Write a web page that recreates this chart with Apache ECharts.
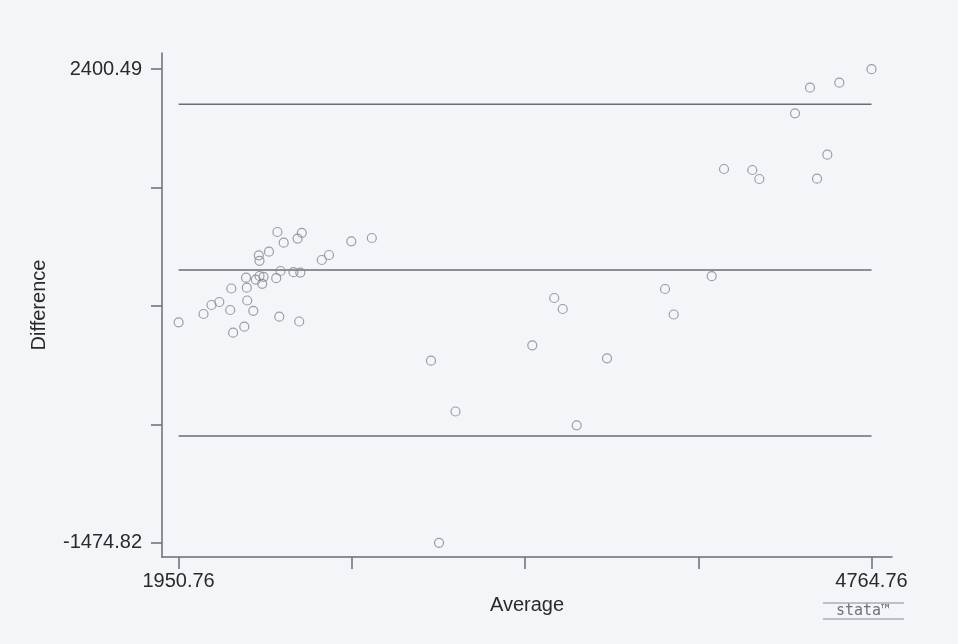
<!DOCTYPE html>
<html>
<head>
<meta charset="utf-8">
<script src="https://cdn.jsdelivr.net/npm/echarts@6/dist/echarts.min.js"></script>
<style>
  html, body { margin: 0; padding: 0; background: #f3f5f9; }
  #chart { width: 958px; height: 644px; }
</style>
</head>
<body>
<div id="chart"></div>
<script>
// Average of the two measurements (x) and their difference (y)
const averages = [
  1950.76, 2051.9, 2084.4, 2116.1, 2160.3, 2164.8, 2172.1, 2224.5, 2227.7, 2229.4,
  2217.6, 2254.1, 2264.3, 2279.3, 2295.6, 2290.3, 2276.5, 2279.3, 2317.9, 2352.0,
  2377.6, 2347.2, 2364.6, 2359.7, 2417.4, 2445.0, 2440.5, 2434.0, 2451.1, 2532.3,
  2561.6, 2652.1, 2735.4, 2975.8, 3075.3, 3008.3, 3387.2, 3476.2, 3510.7, 3567.5,
  3690.6, 3926.2, 3961.5, 4115.8, 4165.8, 4280.7, 4309.1, 4454.1, 4515.0, 4543.5,
  4585.3, 4634.0, 4764.76
];
const differences = [
  329.5, 397.4, 471.0, 495.6, 430.1, 606.0, 244.4, 694.4, 612.6, 507.8,
  293.5, 423.6, 678.0, 708.3, 701.8, 644.5, 877.7, 832.7, 907.2, 1068.4,
  980.8, 690.3, 749.2, 375.3, 739.4, 736.1, 336.0, 1014.4, 1061.8, 839.2,
  880.2, 992.3, 1019.3, 15.2, -400.4, -1474.82, 141.3, 528.3, 438.3, -513.4,
  34.9, 601.9, 393.3, 706.7, 1583.9, 1575.7, 1502.0, 2039.6, 2249.1, 1504.5,
  1700.9, 2290.0, 2400.49
];
// Mean difference and limits of agreement
const limitLines = [2114.3, 757.1, -600.1];
// Tick values
const xTicks = [1950.76, 2654.26, 3357.76, 4061.26, 4764.76];
const xLabels = [1950.76, 4764.76];
const yTicks = [-1474.82, -505.99, 462.84, 1431.66, 2400.49];
const yLabels = [-1474.82, 2400.49];

const points = averages.map((a, i) => [a, differences[i]]);
const xMin = xTicks[0], xMax = xTicks[xTicks.length - 1];

const chart = echarts.init(document.getElementById('chart'), null, { renderer: 'canvas' });

const lineSeries = limitLines.map(v => ({
  type: 'line',
  data: [[xMin, v], [xMax, v]],
  symbol: 'none',
  silent: true,
  lineStyle: { color: '#6a6c72', width: 1.5 },
  z: 1
}));

chart.setOption({
  backgroundColor: '#f3f5f9',
  animation: false,
  textStyle: { fontFamily: 'Liberation Sans, Arial, sans-serif' },
  grid: { left: 162, right: 66, top: 53, bottom: 87, containLabel: false },
  xAxis: {
    type: 'value',
    min: 1883.35,
    max: 4848.0,
    name: 'Average',
    nameLocation: 'middle',
    nameGap: 31,
    nameTextStyle: { fontSize: 20, color: '#2a2a2e', fontFamily: 'Liberation Sans' },
    axisLine: { show: true, onZero: false, lineStyle: { color: '#6a6c72', width: 1.5 } },
    axisTick: { show: true, length: 12, customValues: xTicks, lineStyle: { color: '#6a6c72', width: 1.5 } },
    axisLabel: {
      customValues: xLabels,
      margin: 14,
      fontSize: 20,
      color: '#2a2a2e',
      fontFamily: 'Liberation Sans',
      formatter: v => Number(v).toFixed(2)
    },
    splitLine: { show: false }
  },
  yAxis: {
    type: 'value',
    min: -1591.0,
    max: 2533.1,
    name: 'Difference',
    nameLocation: 'middle',
    nameGap: 113,
    nameRotate: 90,
    nameTextStyle: { fontSize: 20, color: '#2a2a2e', fontFamily: 'Liberation Sans' },
    axisLine: { show: true, onZero: false, lineStyle: { color: '#6a6c72', width: 1.5 } },
    axisTick: { show: true, length: 11, customValues: yTicks, lineStyle: { color: '#6a6c72', width: 1.5 } },
    axisLabel: {
      customValues: yLabels,
      margin: 20,
      fontSize: 20,
      color: '#2a2a2e',
      fontFamily: 'Liberation Sans',
      formatter: v => Number(v).toFixed(2)
    },
    splitLine: { show: false }
  },
  series: [
    ...lineSeries,
    {
      type: 'scatter',
      data: points,
      symbol: 'circle',
      symbolSize: 9,
      itemStyle: { color: 'rgba(0,0,0,0)', borderColor: '#85878f', borderWidth: 1.2 },
      z: 3
    }
  ],
  graphic: [
    { type: 'line', shape: { x1: 823, y1: 603, x2: 904, y2: 603 }, style: { stroke: '#8a8c92', lineWidth: 1.2 } },
    { type: 'line', shape: { x1: 823, y1: 619, x2: 904, y2: 619 }, style: { stroke: '#8a8c92', lineWidth: 1 } },
    { type: 'text', x: 863, y: 611, style: { text: 'stata™', fill: '#6f7178', font: '15px "DejaVu Sans Mono"', textAlign: 'center', textVerticalAlign: 'middle' } }
  ]
});
</script>
</body>
</html>
